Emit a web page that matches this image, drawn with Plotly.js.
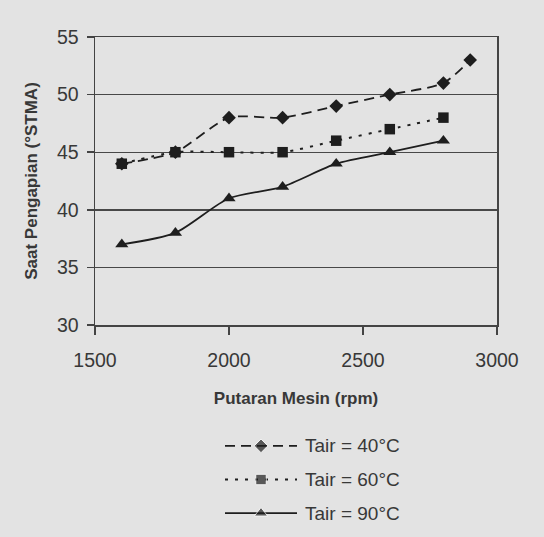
<!DOCTYPE html>
<html>
<head>
<meta charset="utf-8">
<script src="https://cdn.plot.ly/plotly-3.0.1.min.js"></script>
<style>
  html, body { margin: 0; padding: 0; background: #e3e3e3; }
  #chart { width: 544px; height: 537px; }
</style>
</head>
<body>
<div id="chart"></div>
<script>
// Engine speed (rpm) and ignition timing (degrees before TDC) for three intake-air temperatures
const rpm = [1600, 1800, 2000, 2200, 2400, 2600, 2800];
const rpm40 = [1600, 1800, 2000, 2200, 2400, 2600, 2800, 2900];
const timing40 = [44, 45, 48, 48, 49, 50, 51, 53];
const timing60 = [44, 45, 45, 45, 46, 47, 48];
const timing90 = [37, 38, 41, 42, 44, 45, 46];

const seriesNames = ['Tair = 40°C', 'Tair = 60°C', 'Tair = 90°C'];
const xTicks = [1500, 2000, 2500, 3000];
const yTicks = [30, 35, 40, 45, 50, 55];

const ink = '#1e1e1e';
const textColor = '#383838';
const bg = '#e3e3e3';
const fontFamily = 'Liberation Sans, Arial, sans-serif';

const styles = [
  { dash: '10px,6px', width: 1.8, symbol: 'diamond', size: 10.5 },
  { dash: '3px,7px', width: 2, symbol: 'square', size: 10.5 },
  { dash: 'solid', width: 1.8, symbol: 'triangle-up', size: 11.5 }
];

const xs = [rpm40, rpm, rpm];
const ys = [timing40, timing60, timing90];

const traces = ys.map((y, i) => ({
  type: 'scatter',
  mode: 'lines+markers',
  x: xs[i],
  y: y,
  name: seriesNames[i],
  showlegend: false,
  line: { color: ink, width: styles[i].width, dash: styles[i].dash, shape: 'spline', smoothing: 0.7 },
  marker: { color: ink, symbol: styles[i].symbol, size: styles[i].size },
  xaxis: 'x', yaxis: 'y'
}));

// Key below the chart: one sample stroke per series on its own small axes
const keyXDomain = [0.3234, 0.5025];
const keyYDomain = [0, 0.2048];
const keyRange = [3.5, 0.5];

const keyTraces = seriesNames.map((n, i) => ({
  type: 'scatter',
  mode: 'lines+markers',
  x: [0, 0.5, 1],
  y: [i + 1, i + 1, i + 1],
  showlegend: false,
  hoverinfo: 'skip',
  line: { color: ink, width: styles[i].width, dash: styles[i].dash },
  marker: { color: ink, symbol: styles[i].symbol, size: [0, styles[i].size, 0] },
  xaxis: 'x2', yaxis: 'y2'
}));

// Labels sit just right of each sample stroke, on the same row
const keyLabels = seriesNames.map((n, i) => {
  const frac = (keyRange[0] - (i + 1)) / (keyRange[0] - keyRange[1]);
  return {
    text: n,
    xref: 'paper', yref: 'paper',
    x: keyXDomain[1] + 0.015,
    y: keyYDomain[0] + frac * (keyYDomain[1] - keyYDomain[0]),
    xanchor: 'left', yanchor: 'middle',
    showarrow: false,
    font: { family: fontFamily, size: 19, color: textColor }
  };
});

const layout = {
  width: 544,
  height: 537,
  paper_bgcolor: bg,
  plot_bgcolor: bg,
  margin: { l: 95, r: 47, t: 37, b: 7 },
  font: { family: fontFamily, size: 19, color: textColor },
  showlegend: false,
  xaxis: {
    domain: [0, 1],
    anchor: 'y',
    range: [1500, 3000],
    tickvals: xTicks,
    ticktext: xTicks.map(String),
    ticks: 'outside',
    ticklen: 8,
    tickwidth: 1.5,
    tickcolor: '#444',
    ticklabelstandoff: 9,
    showgrid: false,
    zeroline: false,
    showline: true,
    linecolor: '#444',
    linewidth: 1.5,
    mirror: true,
    tickfont: { size: 19.5, color: textColor },
    title: {
      text: 'Putaran Mesin (rpm)',
      font: { family: fontFamily, size: 17, color: textColor, weight: 'bold' },
      standoff: 22
    }
  },
  yaxis: {
    domain: [0.4158, 1],
    anchor: 'x',
    range: [30, 55],
    tickvals: yTicks,
    ticktext: yTicks.map(String),
    ticks: 'outside',
    ticklen: 7,
    tickwidth: 1.5,
    tickcolor: '#444',
    ticklabelstandoff: 4,
    showgrid: true,
    gridcolor: '#484848',
    gridwidth: 1.4,
    zeroline: false,
    showline: true,
    linecolor: '#444',
    linewidth: 1.5,
    mirror: true,
    tickfont: { size: 19.5, color: textColor },
    title: {
      text: 'Saat Pengapian (°STMA)',
      font: { family: fontFamily, size: 17, color: textColor, weight: 'bold' },
      standoff: 15
    }
  },
  xaxis2: {
    domain: keyXDomain,
    anchor: 'y2',
    range: [0, 1],
    visible: false,
    fixedrange: true
  },
  yaxis2: {
    domain: keyYDomain,
    anchor: 'x2',
    range: keyRange,
    visible: false,
    fixedrange: true
  },
  annotations: keyLabels
};

Plotly.newPlot('chart', traces.concat(keyTraces), layout, { staticPlot: true, displayModeBar: false });
</script>
</body>
</html>
